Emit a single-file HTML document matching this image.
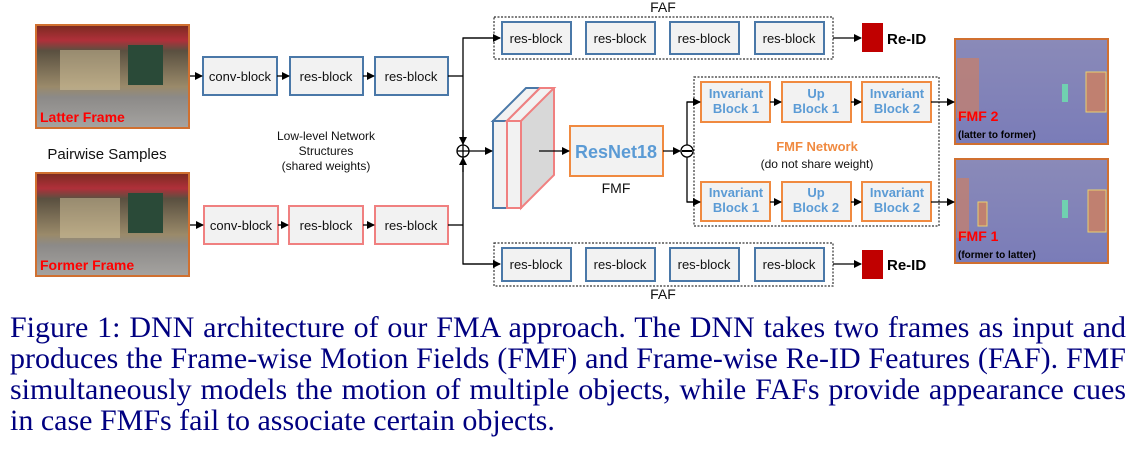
<!DOCTYPE html>
<html><head><meta charset="utf-8"><style>
body{margin:0;width:1133px;height:458px;background:#fff;overflow:hidden;position:relative}
svg{position:absolute;left:0;top:0}
.cap{position:absolute;left:10px;width:1116px;font-family:"Liberation Serif",serif;font-size:30px;color:#000080;text-align:justify;text-align-last:justify;white-space:nowrap;line-height:31px}
</style></head><body>
<svg width="1133" height="300" viewBox="0 0 1133 300" font-family="Liberation Sans, DejaVu Sans, sans-serif">
<defs>
<marker id="a" markerWidth="8" markerHeight="8" refX="7" refY="4" orient="auto" markerUnits="userSpaceOnUse"><path d="M0,0L8,4L0,8z" fill="#000"/></marker>
<linearGradient id="ph" x1="0" y1="0" x2="0" y2="1"><stop offset="0" stop-color="#7a2a20"/><stop offset="0.15" stop-color="#b0303a"/><stop offset="0.25" stop-color="#5a5040"/><stop offset="0.6" stop-color="#9a8a6a"/><stop offset="0.7" stop-color="#8c8a88"/><stop offset="1" stop-color="#a5a3a0"/></linearGradient>
<linearGradient id="fm" x1="0" y1="0" x2="0" y2="1"><stop offset="0" stop-color="#8a8ab8"/><stop offset="1" stop-color="#7a7cb8"/></linearGradient>
</defs>
<g fill="#f2f2f2" stroke-width="2">
<rect x="36" y="25" width="153" height="103" fill="url(#ph)" stroke="#d07030"/>
<rect x="36" y="173" width="153" height="103" fill="url(#ph)" stroke="#d07030"/>
<rect x="60" y="50" width="60" height="40" fill="#d8c8a0" stroke="none" opacity="0.5"/>
<rect x="60" y="198" width="60" height="40" fill="#d8c8a0" stroke="none" opacity="0.5"/>
<rect x="128" y="45" width="35" height="40" fill="#2a4a38" stroke="none"/>
<rect x="128" y="193" width="35" height="40" fill="#2a4a38" stroke="none"/>
<rect x="955" y="39" width="153" height="105" fill="url(#fm)" stroke="#d07030"/>
<rect x="955" y="159" width="153" height="104" fill="url(#fm)" stroke="#d07030"/>
<rect x="957" y="58" width="22" height="60" fill="#c08070" stroke="none" opacity="0.8"/>
<rect x="1086" y="72" width="20" height="40" fill="#c08070" stroke="#e8d070" stroke-width="1"/>
<rect x="1062" y="84" width="6" height="18" fill="#70d0b0" stroke="none"/>
<rect x="957" y="178" width="12" height="60" fill="#c08070" stroke="none" opacity="0.8"/>
<rect x="978" y="202" width="9" height="24" fill="#c08070" stroke="#e8d070" stroke-width="1"/>
<rect x="1088" y="190" width="18" height="42" fill="#c08070" stroke="#e8d070" stroke-width="1"/>
<rect x="1062" y="200" width="6" height="18" fill="#70d0b0" stroke="none"/>
<rect x="203" y="57" width="74" height="38" stroke="#4a78a8"/>
<rect x="290" y="57" width="73" height="38" stroke="#4a78a8"/>
<rect x="375" y="57" width="73" height="38" stroke="#4a78a8"/>
<rect x="204" y="206" width="74" height="38" stroke="#f08080"/>
<rect x="289" y="206" width="74" height="38" stroke="#f08080"/>
<rect x="375" y="206" width="73" height="38" stroke="#f08080"/>
<rect x="502" y="22" width="69" height="32" stroke="#4a78a8"/>
<rect x="586" y="22" width="69" height="32" stroke="#4a78a8"/>
<rect x="670" y="22" width="69" height="32" stroke="#4a78a8"/>
<rect x="755" y="22" width="69" height="32" stroke="#4a78a8"/>
<rect x="502" y="248" width="69" height="33" stroke="#4a78a8"/>
<rect x="586" y="248" width="69" height="33" stroke="#4a78a8"/>
<rect x="670" y="248" width="69" height="33" stroke="#4a78a8"/>
<rect x="755" y="248" width="69" height="33" stroke="#4a78a8"/>
<rect x="701" y="82" width="69" height="40" stroke="#f08a40"/>
<rect x="782" y="82" width="69" height="40" stroke="#f08a40"/>
<rect x="862" y="82" width="69" height="40" stroke="#f08a40"/>
<rect x="701" y="182" width="69" height="39" stroke="#f08a40"/>
<rect x="782" y="182" width="69" height="39" stroke="#f08a40"/>
<rect x="862" y="182" width="69" height="39" stroke="#f08a40"/>
<rect x="570" y="126" width="93" height="50" stroke="#f08a40"/>
</g>
<g fill="none" stroke="#333" stroke-width="1.2" stroke-dasharray="2,1.5">
<rect x="494" y="17" width="339" height="42"/>
<rect x="494" y="243" width="339" height="43"/>
<rect x="694" y="77" width="245" height="149"/>
</g>
<rect x="862" y="23" width="21" height="29" fill="#c00000"/>
<rect x="862" y="250" width="21" height="29" fill="#c00000"/>
<polygon points="493,121 526,88 540,88 507,121" fill="#f2f2f2" stroke="#4a78a8" stroke-width="2"/>
<rect x="493" y="121" width="14" height="87" fill="#f2f2f2" stroke="#4a78a8" stroke-width="2"/>
<polygon points="507,121 540,88 554,88 554,175 521,208 521,121" fill="#d8d8d8" stroke="#f08080" stroke-width="2"/>
<polygon points="507,121 540,88 554,88 521,121" fill="#f2f2f2" stroke="#f08080" stroke-width="2"/>
<rect x="507" y="121" width="14" height="87" fill="#f2f2f2" stroke="#f08080" stroke-width="2"/>
<g stroke="#000" stroke-width="1.3" fill="none">
<line x1="190" y1="76" x2="202" y2="76" marker-end="url(#a)"/>
<line x1="277" y1="76" x2="289" y2="76" marker-end="url(#a)"/>
<line x1="363" y1="76" x2="374" y2="76" marker-end="url(#a)"/>
<line x1="190" y1="225" x2="203" y2="225" marker-end="url(#a)"/>
<line x1="278" y1="225" x2="288" y2="225" marker-end="url(#a)"/>
<line x1="363" y1="225" x2="374" y2="225" marker-end="url(#a)"/>
<polyline points="448,76 463,76"/><polyline points="448,225 463,225"/>
<polyline points="500,38 463,38 463,264 500,264"/>
<line x1="463" y1="38" x2="500" y2="38" marker-end="url(#a)"/>
<line x1="463" y1="264" x2="500" y2="264" marker-end="url(#a)"/>
<line x1="463" y1="130" x2="463" y2="144" marker-end="url(#a)"/>
<line x1="463" y1="172" x2="463" y2="158" marker-end="url(#a)"/>
<line x1="469" y1="151" x2="492" y2="151" marker-end="url(#a)"/>
<line x1="539" y1="151" x2="569" y2="151" marker-end="url(#a)"/>
<line x1="663" y1="151" x2="680" y2="151" marker-end="url(#a)"/>
<polyline points="687,145 687,102 700,102"/><line x1="687" y1="102" x2="700" y2="102" marker-end="url(#a)"/>
<polyline points="687,157 687,202 700,202"/><line x1="687" y1="202" x2="700" y2="202" marker-end="url(#a)"/>
<line x1="770" y1="102" x2="781" y2="102" marker-end="url(#a)"/>
<line x1="851" y1="102" x2="861" y2="102" marker-end="url(#a)"/>
<line x1="770" y1="202" x2="781" y2="202" marker-end="url(#a)"/>
<line x1="851" y1="202" x2="861" y2="202" marker-end="url(#a)"/>
<line x1="931" y1="102" x2="954" y2="102" marker-end="url(#a)"/>
<line x1="931" y1="202" x2="954" y2="202" marker-end="url(#a)"/>
<line x1="833" y1="38" x2="861" y2="38" marker-end="url(#a)"/>
<line x1="833" y1="264" x2="861" y2="264" marker-end="url(#a)"/>
<circle cx="463" cy="151" r="6" fill="#fff"/><line x1="457" y1="151" x2="469" y2="151"/><line x1="463" y1="145" x2="463" y2="157"/>
<circle cx="687" cy="151" r="6" fill="#fff"/><line x1="682" y1="151" x2="692" y2="151" stroke-width="2"/>
</g>
<g font-size="13" fill="#111" text-anchor="middle">
<text x="240" y="81">conv-block</text><text x="326" y="81">res-block</text><text x="411" y="81">res-block</text>
<text x="241" y="230">conv-block</text><text x="326" y="230">res-block</text><text x="411" y="230">res-block</text>
<text x="536" y="43">res-block</text><text x="620" y="43">res-block</text><text x="704" y="43">res-block</text><text x="789" y="43">res-block</text>
<text x="536" y="269">res-block</text><text x="620" y="269">res-block</text><text x="704" y="269">res-block</text><text x="789" y="269">res-block</text>
<text x="663" y="12" font-size="14">FAF</text><text x="663" y="299" font-size="14">FAF</text>
<text x="326" y="140" font-size="12">Low-level Network</text><text x="326" y="155" font-size="12">Structures</text><text x="326" y="170" font-size="12">(shared weights)</text>
<text x="107" y="159" font-size="15">Pairwise Samples</text>
<text x="616" y="193" font-size="14">FMF</text>
<text x="817" y="151" font-size="13" font-weight="bold" fill="#f08a40">FMF Network</text>
<text x="817" y="168" font-size="12">(do not share weight)</text>
</g>
<g font-size="13" fill="#5b9bd5" text-anchor="middle" font-weight="bold">
<text x="736" y="98">Invariant</text><text x="736" y="113">Block 1</text>
<text x="816" y="98">Up</text><text x="816" y="113">Block 1</text>
<text x="897" y="98">Invariant</text><text x="897" y="113">Block 2</text>
<text x="736" y="197">Invariant</text><text x="736" y="212">Block 1</text>
<text x="816" y="197">Up</text><text x="816" y="212">Block 2</text>
<text x="897" y="197">Invariant</text><text x="897" y="212">Block 2</text>
<text x="616" y="158" font-size="18">ResNet18</text>
</g>
<g font-weight="bold">
<text x="887" y="44" font-size="15" fill="#000">Re-ID</text>
<text x="887" y="270" font-size="15" fill="#000">Re-ID</text>
<text x="40" y="122" font-size="14" fill="#ff0000">Latter Frame</text>
<text x="40" y="270" font-size="14" fill="#ff0000">Former Frame</text>
<text x="958" y="121" font-size="14" fill="#ff0000">FMF 2</text>
<text x="958" y="138" font-size="10" fill="#000">(latter to former)</text>
<text x="958" y="241" font-size="14" fill="#ff0000">FMF 1</text>
<text x="958" y="258" font-size="10" fill="#000">(former to latter)</text>
</g>
</svg>
<div class="cap" style="top:312px">Figure 1: DNN architecture of our FMA approach. The DNN takes two frames as input and</div>
<div class="cap" style="top:343px">produces the Frame-wise Motion Fields (FMF) and Frame-wise Re-ID Features (FAF). FMF</div>
<div class="cap" style="top:374px">simultaneously models the motion of multiple objects, while FAFs provide appearance cues</div>
<div class="cap" style="top:405px;text-align-last:left">in case FMFs fail to associate certain objects.</div>
</body></html>
